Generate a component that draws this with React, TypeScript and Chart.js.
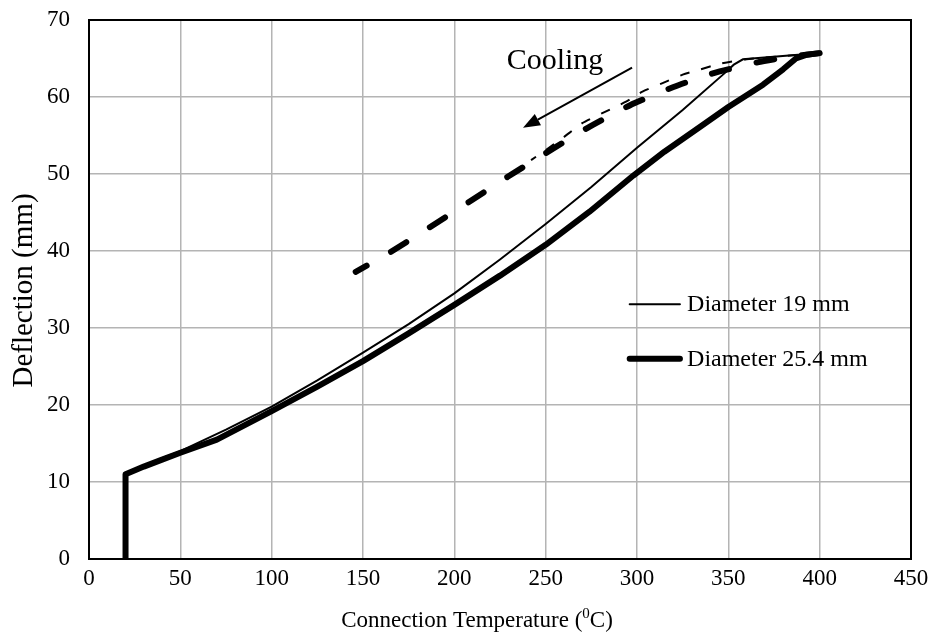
import { useEffect, useRef } from 'react';
import { Chart, registerables } from 'chart.js';

Chart.register(...registerables);

// Heating branches
const heat19T = [20, 20, 30, 40, 50, 75, 100, 125, 150, 175, 200, 225, 250, 275, 300, 325, 348, 353, 358, 400];
const heat19D = [0, 11, 12.1, 13.1, 14, 16.8, 19.8, 23.2, 26.8, 30.5, 34.5, 38.9, 43.5, 48.3, 53.4, 58.3, 63.1, 64.2, 64.9, 65.7];
const heat254T = [20, 20, 30, 40, 50, 70, 100, 125, 150, 175, 200, 225, 250, 274, 298, 315, 335, 350, 369, 380, 387, 393, 400];
const heat254D = [0, 11, 12, 12.9, 13.8, 15.5, 19.2, 22.4, 25.7, 29.3, 33, 36.8, 40.8, 45.1, 49.8, 52.9, 56.2, 58.7, 61.6, 63.6, 65.0, 65.5, 65.7];
// Cooling branches
const cool19T = [400, 360, 345, 335, 325, 314, 303, 294, 281, 270, 260, 250, 242];
const cool19D = [65.7, 64.9, 64.3, 63.6, 62.9, 61.8, 60.7, 59.4, 57.9, 56.6, 54.8, 53.1, 51.8];
const cool254T = [400, 380, 366, 342, 320, 296, 273, 250, 229, 207, 186, 164, 146];
const cool254D = [65.7, 65.1, 64.5, 63.1, 61.3, 58.9, 56.0, 52.7, 49.6, 46.2, 43.0, 39.7, 37.3];

const legendLabels = ['Diameter 19 mm', 'Diameter 25.4 mm'];
const annotationText = 'Cooling';
const xTitleParts = ['Connection Temperature (', '0', 'C)'];
const yTitle = 'Deflection (mm)';

const FONT = "'Liberation Serif', 'Times New Roman', serif";

const zip = (xs: number[], ys: number[]) => xs.map((x, i) => ({ x, y: ys[i] }));

const extrasPlugin = {
  id: 'extras',
  afterDraw(chart: any) {
    const { ctx, chartArea, scales } = chart;
    const xs = scales.x;
    const ys = scales.y;
    ctx.save();
    // frame
    ctx.strokeStyle = '#000';
    ctx.lineWidth = 2;
    ctx.strokeRect(chartArea.left, chartArea.top, chartArea.right - chartArea.left, chartArea.bottom - chartArea.top);

    ctx.fillStyle = '#000';
    // axis titles
    ctx.textBaseline = 'middle';
    ctx.textAlign = 'left';
    ctx.font = `23px ${FONT}`;
    const w0 = ctx.measureText(xTitleParts[0]).width;
    ctx.font = `15px ${FONT}`;
    const w1 = ctx.measureText(xTitleParts[1]).width;
    ctx.font = `23px ${FONT}`;
    const w2 = ctx.measureText(xTitleParts[2]).width;
    const total = w0 + w1 + w2;
    const cx = 477;
    const cy = chartArea.bottom + 62;
    let tx = cx - total / 2;
    ctx.fillText(xTitleParts[0], tx, cy);
    tx += w0;
    ctx.font = `15px ${FONT}`;
    ctx.fillText(xTitleParts[1], tx, cy - 7);
    tx += w1;
    ctx.font = `23px ${FONT}`;
    ctx.fillText(xTitleParts[2], tx, cy);

    ctx.save();
    ctx.translate(24, (chartArea.top + chartArea.bottom) / 2 + 1);
    ctx.rotate(-Math.PI / 2);
    ctx.textAlign = 'center';
    ctx.font = `29px ${FONT}`;
    ctx.fillText(yTitle, 0, 0);
    ctx.restore();

    // legend
    const entries = [
      { label: legendLabels[0], width: 2, y: 33.1 },
      { label: legendLabels[1], width: 6, y: 26.0 },
    ];
    ctx.font = `24px ${FONT}`;
    ctx.textBaseline = 'middle';
    ctx.textAlign = 'left';
    entries.forEach((e) => {
      const py = ys.getPixelForValue(e.y);
      ctx.beginPath();
      ctx.lineWidth = e.width;
      ctx.lineCap = 'round';
      ctx.moveTo(xs.getPixelForValue(296), py);
      ctx.lineTo(xs.getPixelForValue(323.5), py);
      ctx.stroke();
      ctx.fillText(e.label, xs.getPixelForValue(327.4), py + 1);
    });

    // Cooling annotation
    ctx.font = `30px ${FONT}`;
    ctx.textAlign = 'center';
    ctx.fillText(annotationText, xs.getPixelForValue(255.1), ys.getPixelForValue(64.6));
    const x0 = xs.getPixelForValue(297.3);
    const y0 = ys.getPixelForValue(63.8);
    const x1 = xs.getPixelForValue(237.6);
    const y1 = ys.getPixelForValue(56.0);
    const ang = Math.atan2(y1 - y0, x1 - x0);
    const headLen = 17;
    const headW = 6.5;
    const bx = x1 - headLen * Math.cos(ang);
    const by = y1 - headLen * Math.sin(ang);
    ctx.lineWidth = 2;
    ctx.lineCap = 'butt';
    ctx.beginPath();
    ctx.moveTo(x0, y0);
    ctx.lineTo(bx, by);
    ctx.stroke();
    ctx.beginPath();
    ctx.moveTo(x1, y1);
    ctx.lineTo(bx + headW * Math.sin(ang), by - headW * Math.cos(ang));
    ctx.lineTo(bx - headW * Math.sin(ang), by + headW * Math.cos(ang));
    ctx.closePath();
    ctx.fill();
    ctx.restore();
  },
};

export default function App() {
  const ref = useRef<HTMLCanvasElement | null>(null);
  useEffect(() => {
    document.body.style.margin = '0';
    if (!ref.current) return;
    const chart = new Chart(ref.current, {
      type: 'line',
      data: {
        datasets: [
          {
            label: legendLabels[0],
            data: zip(heat19T, heat19D),
            borderColor: '#000',
            borderWidth: 2,
            pointRadius: 0,
            tension: 0,
          },
          {
            label: legendLabels[1],
            data: zip(heat254T, heat254D),
            borderColor: '#000',
            borderWidth: 6,
            pointRadius: 0,
            tension: 0,
            borderJoinStyle: 'round',
          },
          {
            label: 'Cooling 19',
            data: zip(cool19T, cool19D),
            borderColor: '#000',
            borderWidth: 2,
            borderDash: [10, 12],
            pointRadius: 0,
            tension: 0.2,
          },
          {
            label: 'Cooling 25.4',
            data: zip(cool254T, cool254D),
            borderColor: '#000',
            borderWidth: 6,
            borderDash: [18, 28],
            borderCapStyle: 'round',
            pointRadius: 0,
            tension: 0.2,
          },
        ],
      },
      options: {
        animation: false,
        responsive: false,
        layout: { padding: { left: 0, right: 25, top: 20, bottom: 0 } },
        plugins: { legend: { display: false }, tooltip: { enabled: false } },
        scales: {
          x: {
            type: 'linear',
            min: 0,
            max: 450,
            ticks: { stepSize: 50, color: '#000', font: { family: FONT, size: 23 }, padding: 6, maxRotation: 0 },
            grid: { color: '#b4b4b4', lineWidth: 1.5, drawTicks: false },
            border: { color: '#000', width: 2 },
            afterFit: (s: any) => {
              s.height = 80;
              s.paddingLeft = 0;
              s.paddingRight = 0;
            },
          },
          y: {
            type: 'linear',
            min: 0,
            max: 70,
            ticks: { stepSize: 10, color: '#000', font: { family: FONT, size: 23 }, padding: 19 },
            grid: { color: '#b4b4b4', lineWidth: 1.5, drawTicks: false },
            border: { color: '#000', width: 2 },
            afterFit: (s: any) => {
              s.width = 89;
              s.paddingTop = 0;
              s.paddingBottom = 0;
            },
          },
        },
      },
      plugins: [extrasPlugin],
    });
    return () => chart.destroy();
  }, []);
  return (
    <div style={{ width: 936, height: 639 }}>
      <canvas ref={ref} width={936} height={639} style={{ display: 'block' }} />
    </div>
  );
}
